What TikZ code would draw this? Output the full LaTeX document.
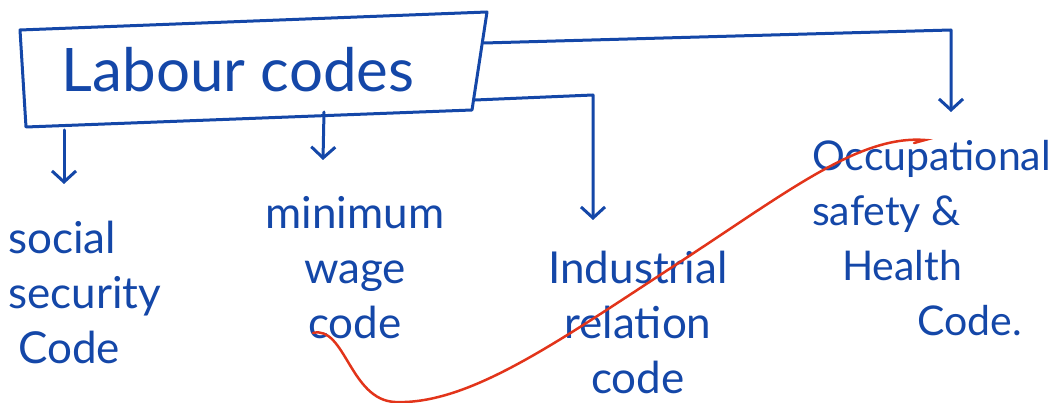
\documentclass[tikz,border=0pt]{standalone}
\usepackage{fontspec}
\setmainfont{Lato}
\usetikzlibrary{arrows.meta}
\definecolor{ink}{HTML}{1447A8}
\definecolor{redink}{HTML}{E2341A}
\tikzset{
  pen/.style={draw=ink, line width=3pt, line cap=round, line join=round},
  arr/.style={pen, -{Straight Barb[length=11pt,width=24pt,line width=3pt]}},
  lbl/.style={text=ink, font=\fontsize{44}{55}\selectfont, inner sep=0pt},
}
\begin{document}
\begin{tikzpicture}[x=1pt,y=-1pt]
\useasboundingbox (0,0) rectangle (1052,403);
% main box
\draw[pen] (20,30) -- (487,12) -- (472,110) -- (26,127) -- cycle;
\node[lbl, font=\fontsize{60}{66}\selectfont] (main) at (238,70) {Labour codes};
\coordinate (mainR) at (484,43);
\coordinate (mainBR) at (475,100);
\coordinate (mainB) at (324,112);
\coordinate (mainBL) at (64,130);
\coordinate (c1) at (951,30);
\coordinate (c2) at (593,95);
% targets
\coordinate (t1) at (64,184);
\coordinate (t2) at (323,160);
\coordinate (t3) at (593,220);
\coordinate (t4) at (951,112);
% labels
\node[lbl, anchor=west, align=left] (ss) at (8,292) {social\\security\\\hspace*{10pt}Code};
\node[lbl, align=center] (mw) at (355,268) {minimum\\wage\\code};
\node[lbl, align=center] (ir) at (638,322) {Industrial\\relation\\code};
\node[lbl, anchor=west, align=left, font=\fontsize{41}{55}\selectfont] (os) at (812,238) {Occupational\\safety \&\\\hspace*{30pt}Health\\\hspace*{105pt}Code.};
% connectors
\draw[arr] (mainBL) -- (t1);
\draw[arr] (mainB) -- (t2);
\draw[arr] (mainBR) -- (c2) -- (t3);
\draw[arr] (mainR) -- (c1) -- (t4);
% red annotation curve
\coordinate (r0) at (313,333);
\coordinate (r1) at (925,140);
\draw[draw=redink, line width=2.5pt, line cap=round]
  (r0) .. controls (345,325) and (350,400) .. (395,402)
       .. controls (470,405) and (560,340) .. (680,262)
       .. controls (790,190) and (860,135) .. (r1)
       -- (914,143);
\end{tikzpicture}
\end{document}
